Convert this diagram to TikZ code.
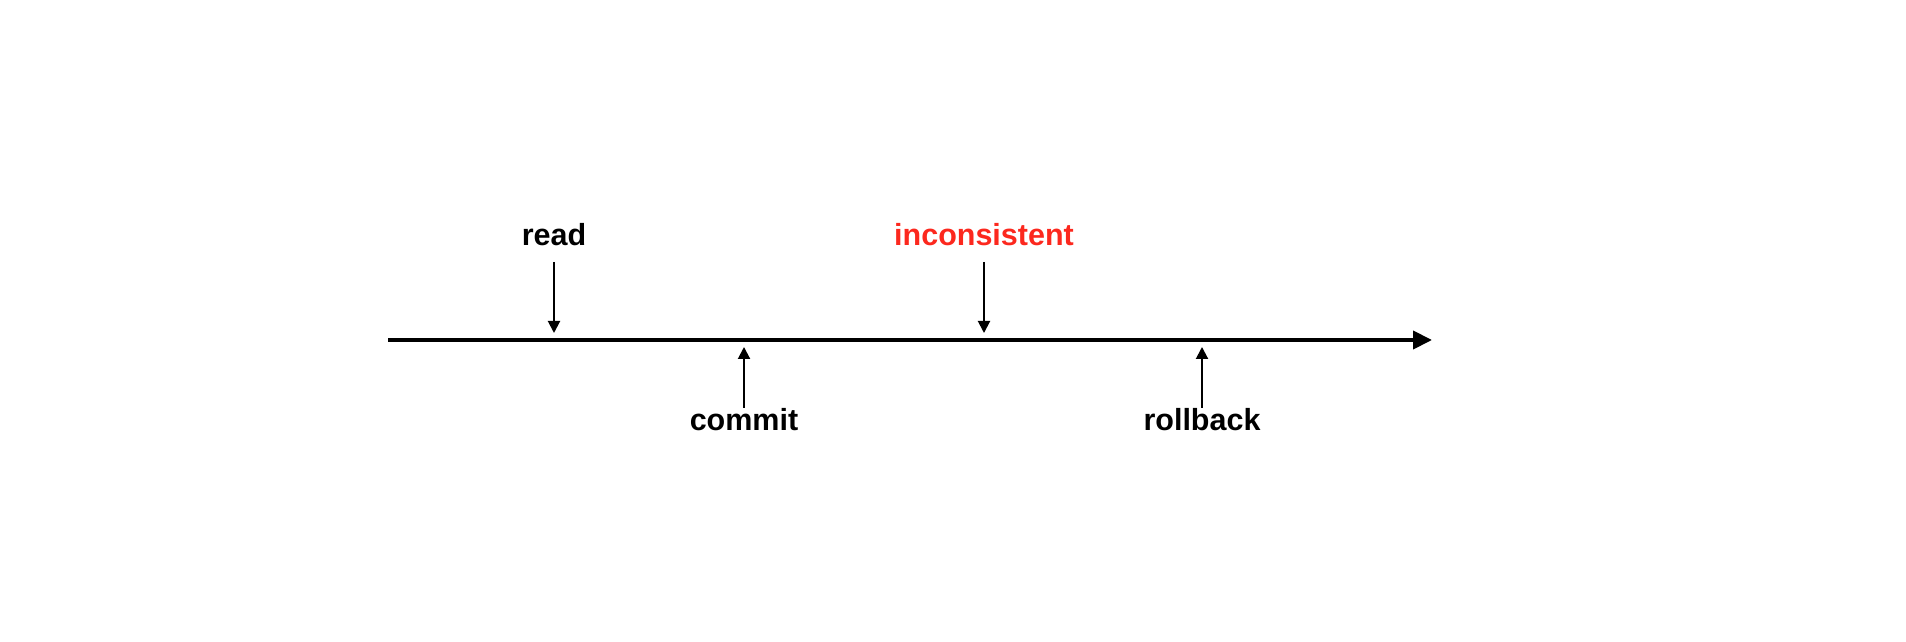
\documentclass[tikz,border=0pt]{standalone}
\usepackage{fontspec}
\setmainfont{Liberation Sans}
\usetikzlibrary{arrows.meta}
\definecolor{alertred}{RGB}{252,40,30}
\begin{document}
\begin{tikzpicture}[x=1pt,y=1pt,
  axis/.style={line width=4pt,-{Triangle[length=19pt,width=18pt]}},
  pointer/.style={line width=2pt,-{Triangle[length=12pt,width=12pt]}},
  lbl/.style={inner sep=0pt,anchor=base,font=\fontsize{30.5}{36}\selectfont\bfseries}]
\useasboundingbox (0,0) rectangle (1906,642);
% timeline
\coordinate (start) at (388,302);
\coordinate (end) at (1432,302);
\draw[axis] (start) -- (end);
% labels
\node[lbl] (read) at (554,396) {read};
\node[lbl,text=alertred] (incons) at (984,396) {inconsistent};
\node[lbl] (commit) at (744,211) {commit};
\node[lbl] (rollback) at (1202,211) {rollback};
% arrow ends
\coordinate (readA) at (554,380);
\coordinate (readB) at (554,309);
\coordinate (inconsA) at (984,380);
\coordinate (inconsB) at (984,309);
\coordinate (commitA) at (744,234);
\coordinate (commitB) at (744,295);
\coordinate (rollbackA) at (1202,234);
\coordinate (rollbackB) at (1202,295);
\draw[pointer] (readA) -- (readB);
\draw[pointer] (inconsA) -- (inconsB);
\draw[pointer] (commitA) -- (commitB);
\draw[pointer] (rollbackA) -- (rollbackB);
\end{tikzpicture}
\end{document}
